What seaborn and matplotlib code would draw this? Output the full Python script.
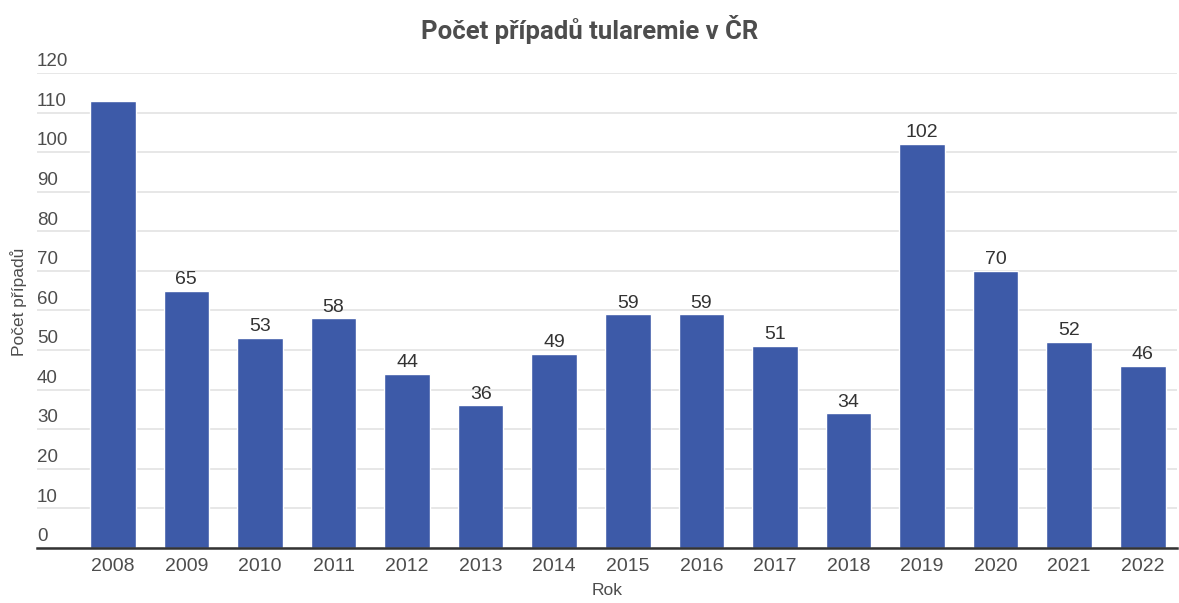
import matplotlib.pyplot as plt
import matplotlib.transforms as mtransforms
import pandas as pd
import seaborn as sns

# data
years = ['2008', '2009', '2010', '2011', '2012', '2013', '2014', '2015',
         '2016', '2017', '2018', '2019', '2020', '2021', '2022']
cases = [113, 65, 53, 58, 44, 36, 49, 59, 59, 51, 34, 102, 70, 52, 46]
y_ticks = [0, 10, 20, 30, 40, 50, 60, 70, 80, 90, 100, 110, 120]

df = pd.DataFrame({'Rok': years, 'Pocet': cases})

sns.set_theme(style='white')
plt.rcParams['font.family'] = ['Liberation Sans', 'DejaVu Sans']
text_color = '#4d4d4d'

fig = plt.figure(figsize=(11.79, 6.03), dpi=100)
ax = fig.add_axes([0.0314, 0.0912, 0.9666, 0.7878])

sns.barplot(data=df, x='Rok', y='Pocet', color='#3d5aa8', saturation=1,
            width=0.62, ax=ax, zorder=3)

# value labels (2008 has none in the original)
for i, v in enumerate(cases):
    if i == 0:
        continue
    ax.annotate(str(v), (i, v), xytext=(0, 2), textcoords='offset points',
                ha='center', va='bottom', fontsize=14, color='#333333')

ax.set_ylim(0, 120)
ax.set_xlim(-1.03, 14.46)
ax.set_yticks(y_ticks)
ax.yaxis.grid(True, color='#e3e3e3', linewidth=1.2, zorder=0)
ax.tick_params(axis='y', length=0, pad=0, labelsize=13.5, labelcolor=text_color)
ax.tick_params(axis='x', length=0, pad=7, labelsize=14, labelcolor=text_color)

# y labels sit left-aligned above the gridlines
offset = mtransforms.ScaledTranslation(0, 2 / 72, fig.dpi_scale_trans)
for lab in ax.get_yticklabels():
    lab.set_horizontalalignment('left')
    lab.set_verticalalignment('bottom')
    lab.set_transform(lab.get_transform() + offset)

for s in ['top', 'right', 'left']:
    ax.spines[s].set_visible(False)
ax.spines['bottom'].set_color('#333333')
ax.spines['bottom'].set_linewidth(1.8)
ax.spines['bottom'].set_zorder(4)

ax.set_xlabel('Rok', fontsize=12.5, color=text_color, labelpad=6)
ax.set_ylabel('')
fig.text(0.016, 0.5, 'Počet případů', rotation=90, ha='center', va='center',
         fontsize=12.5, color=text_color)
fig.suptitle('Počet případů tularemie v ČR', y=0.975, fontsize=18.5,
             fontweight='bold', color=text_color, family=['Roboto', 'DejaVu Sans'])

plt.savefig('out.png', dpi=100)
